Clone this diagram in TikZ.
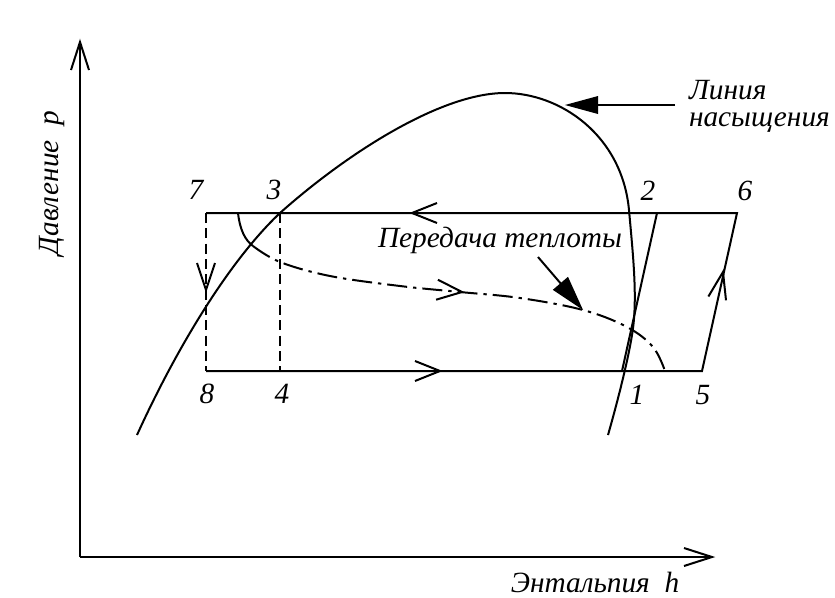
\documentclass[tikz,border=0pt]{standalone}
\usepackage{fontspec}
\setmainfont{Liberation Serif}
\begin{document}
\begin{tikzpicture}[x=0.75pt,y=-0.75pt,line width=1.5pt,line join=miter,
  lbl/.style={font=\fontsize{22}{26}\selectfont\itshape,inner sep=0pt},
  barb/.style={line width=1.5pt,solid},
  dsh/.style={dash pattern=on 7.5pt off 4pt},
  dashdot/.style={dash pattern=on 15pt off 4.5pt on 2.5pt off 4.5pt}]
\useasboundingbox (0,0) rectangle (835,597);
% axes
\coordinate (O) at (80,557);
\coordinate (Ytip) at (80,42);
\coordinate (Xtip) at (712,557);
\draw (O) -- (Ytip);
\draw (O) -- (Xtip);
\draw[barb] (71,70) -- (Ytip) -- (89,70);
\draw[barb] (684,548) -- (Xtip) -- (684,566);
\node[lbl,rotate=90] (ylab) at (52,183) {Давление \ p};
\node[lbl] (xlab) at (595,582) {Энтальпия \ h};
% cycle points
\coordinate (p7) at (206,213);
\coordinate (p3) at (280,213);
\coordinate (p2) at (657,213);
\coordinate (p6) at (737,213);
\coordinate (p8) at (206,371);
\coordinate (p4) at (280,371);
\coordinate (p1) at (622,371);
\coordinate (p5) at (702,371);
\draw (p7) -- (p6) -- (p5) -- (p8);
\draw (p2) -- (p1);
\draw[dsh] (p7) -- (p8);
\draw[dsh] (p3) -- (p4);
% flow arrows
\draw[barb] (437,203) -- (412,213) -- (437,223);
\draw[barb] (415,361) -- (440,371) -- (415,381);
\draw[barb] (197,263) -- (206,290) -- (215,263);
\draw[barb] (708.4,296.5) -- (723,272) -- (726,300.3);
% saturation curve
\draw (137,435) .. controls (177,347) and (230,260) .. (280,213)
  .. controls (345,155) and (440,93) .. (505,93)
  .. controls (560,93) and (622,135) .. (629,210)
  .. controls (633,255) and (638,300) .. (632,335)
  .. controls (628,360) and (618,400) .. (608,435);
% heat transfer curve
\draw (238,213) .. controls (240,230) and (245,240) .. (253,246);
\draw[dashdot] plot[smooth,tension=0.6] coordinates {(253,246) (280,262) (330,276) (400,286) (460,292) (520,298) (583,310) (627,327) (653,347) (665,371)};
\draw[barb] (437.9,279.7) -- (462,292) -- (436.1,299.7);
% labels of points
\node[lbl] (l7) at (196,190) {7};
\node[lbl] (l3) at (274,190) {3};
\node[lbl] (l2) at (648,191) {2};
\node[lbl] (l6) at (745,191) {6};
\node[lbl] (l8) at (207,394) {8};
\node[lbl] (l4) at (282,394) {4};
\node[lbl] (l1) at (637,395) {1};
\node[lbl] (l5) at (703,395) {5};
% annotations
\node[lbl,anchor=west] (sat1) at (688,90) {Линия};
\node[lbl,anchor=west] (sat2) at (688,123) {насыщения};
\coordinate (satA) at (675,105);
\draw (satA) -- (595,105);
\fill (565,105) -- (598,96) -- (598,114) -- cycle;
\node[lbl] (heat) at (500,240) {Передача теплоты};
\coordinate (heatA) at (538,257);
\draw (heatA) -- (562,285);
\fill (583,310) -- (568,276.8) -- (552.8,289.8) -- cycle;
\end{tikzpicture}
\end{document}
